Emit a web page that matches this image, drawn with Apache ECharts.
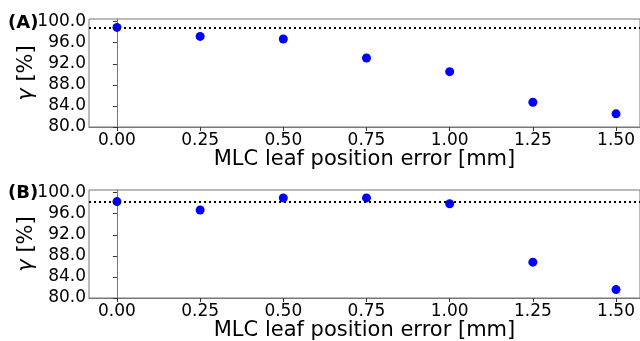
<!DOCTYPE html>
<html>
<head>
<meta charset="utf-8">
<script src="https://cdn.jsdelivr.net/npm/echarts@6/dist/echarts.min.js"></script>
<style>
html, body { margin: 0; padding: 0; background: #fff; }
#chart { width: 640px; height: 341px; }
</style>
</head>
<body>
<div id="chart"></div>
<script>
var errors = [0.00, 0.25, 0.50, 0.75, 1.00, 1.25, 1.50];
var gammaA = [98.9, 97.2, 96.7, 93.1, 90.5, 84.7, 82.5];
var gammaB = [98.3, 96.7, 99.0, 99.0, 97.9, 86.8, 81.6];
var refA = 98.9;
var refB = 98.3;
var yTicks = [80, 84, 88, 92, 96, 100];
var xTicks = [0, 0.25, 0.5, 0.75, 1.0, 1.25, 1.5];
var panelLabels = ['(A)', '(B)'];

var chart = echarts.init(document.getElementById('chart'));
var font = 'DejaVu Sans';

function pairs(ys) {
    var res = [];
    for (var i = 0; i < errors.length; i++) {
        res.push([errors[i], ys[i]]);
    }
    return res;
}

function xAxisFor(idx) {
    return {
        type: 'value',
        gridIndex: idx,
        min: -0.084,
        max: 1.572,
        name: 'MLC leaf position error [mm]',
        nameLocation: 'middle',
        nameGap: 22,
        nameMoveOverlap: false,
        nameTextStyle: { fontFamily: font, fontSize: 21, color: '#000' },
        axisLine: { show: true, lineStyle: { color: '#777', width: 1 } },
        axisTick: { show: true, length: 4, lineStyle: { color: '#333' }, customValues: xTicks },
        axisLabel: {
            fontFamily: font, fontSize: 17, color: '#000', margin: 5,
            customValues: xTicks,
            formatter: function (v) { return v.toFixed(2); }
        },
        splitLine: { show: false }
    };
}

function yAxisFor(idx) {
    return {
        type: 'value',
        gridIndex: idx,
        min: 80,
        max: 100.5,
        name: '{g|γ} [%]',
        nameLocation: 'middle',
        nameRotate: 90,
        nameGap: 52,
        nameMoveOverlap: false,
        nameTextStyle: {
            fontFamily: font, fontSize: 21, color: '#000',
            rich: { g: { fontFamily: font, fontSize: 21, fontStyle: 'italic', color: '#000' } }
        },
        axisLine: { show: true, lineStyle: { color: '#777', width: 1 } },
        axisTick: { show: true, length: 4, lineStyle: { color: '#333' }, customValues: yTicks },
        axisLabel: {
            fontFamily: font, fontSize: 17, color: '#000', margin: 3,
            customValues: yTicks,
            formatter: function (v) { return v.toFixed(1); }
        },
        splitLine: { show: false }
    };
}

function seriesFor(idx, ys, ref) {
    return {
        type: 'scatter',
        xAxisIndex: idx,
        yAxisIndex: idx,
        symbol: 'circle',
        symbolSize: 9,
        itemStyle: { color: '#0000ff', opacity: 1 },
        data: pairs(ys),
        markLine: {
            silent: true,
            symbol: 'none',
            label: { show: false },
            lineStyle: { color: '#000', type: [2, 3], width: 2, opacity: 1 },
            data: [{ yAxis: ref }]
        },
        z: 3
    };
}

chart.setOption({
    animation: false,
    graphic: [
        { type: 'text', left: 8, top: 14, style: { text: panelLabels[0], fontFamily: font, fontSize: 18, fontWeight: 'bold', fill: '#000' } },
        { type: 'text', left: 8, top: 184, style: { text: panelLabels[1], fontFamily: font, fontSize: 18, fontWeight: 'bold', fill: '#000' } }
    ],
    grid: [
        { left: 89, top: 19, width: 551, height: 108, outerBoundsMode: 'none', containLabel: false, show: true, borderColor: '#777', borderWidth: 1 },
        { left: 89, top: 190, width: 551, height: 108, outerBoundsMode: 'none', containLabel: false, show: true, borderColor: '#777', borderWidth: 1 }
    ],
    xAxis: [xAxisFor(0), xAxisFor(1)],
    yAxis: [yAxisFor(0), yAxisFor(1)],
    series: [seriesFor(0, gammaA, refA), seriesFor(1, gammaB, refB)]
});
</script>
</body>
</html>
